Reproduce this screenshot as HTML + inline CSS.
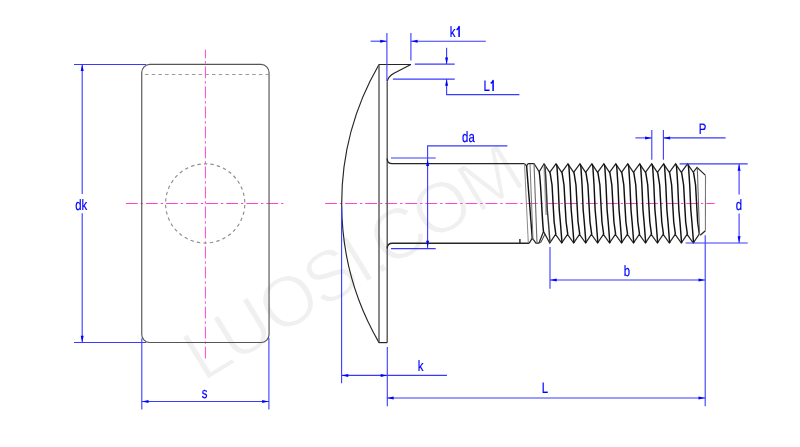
<!DOCTYPE html>
<html><head><meta charset="utf-8"><style>
html,body{margin:0;padding:0;background:#fff;}
svg{display:block;}
text{font-family:"Liberation Sans",sans-serif;}
</style></head><body>
<div style="will-change:transform;width:800px;height:447px">
<svg width="800" height="447" viewBox="0 0 800 447">
<rect width="800" height="447" fill="#fff"/>
<text x="-115 -78.5 -28 25.3 71 88 102 151.8 206.6" y="0" transform="translate(287.5,300.3) rotate(-31.5) translate(0,25.9)" font-size="72" fill="#f0f0f0" stroke="#ffffff" stroke-width="1.4" font-family="Liberation Sans">LUOSI.COM</text>
<line x1="205.4" y1="49.6" x2="205.4" y2="359" stroke="#ff45d0" stroke-width="1.0" stroke-dasharray="11.8 2.95 2.3 2.97" stroke-dashoffset="3.2"/>
<line x1="125.9" y1="203.5" x2="284" y2="203.5" stroke="#ff45d0" stroke-width="1.0" stroke-dasharray="11.8 3.0 2.3 2.96"/>
<rect x="141.75" y="64.45" width="127.3" height="278.0" rx="8" ry="8" fill="none" stroke="#555555" stroke-width="1.15"/>
<line x1="145" y1="74.55" x2="269" y2="74.55" stroke="#9a9a9a" stroke-width="1.1" stroke-dasharray="3.5 3.2"/>
<circle cx="205.2" cy="203.45" r="39.6" fill="none" stroke="#8e8e8e" stroke-width="1.15" stroke-dasharray="3.4 3.15" stroke-dashoffset="-1.6"/>
<line x1="74" y1="64.5" x2="146" y2="64.5" stroke="#3a3aff" stroke-width="1.1" />
<line x1="74" y1="342.5" x2="146" y2="342.5" stroke="#3a3aff" stroke-width="1.1" />
<line x1="82.2" y1="64.4" x2="82.2" y2="194" stroke="#3a3aff" stroke-width="1.1" />
<line x1="82.2" y1="213.2" x2="82.2" y2="342.5" stroke="#3a3aff" stroke-width="1.1" />
<polygon points="82.20,64.60 80.70,71.10 83.70,71.10" fill="#0000ff"/>
<polygon points="82.20,342.30 80.70,335.80 83.70,335.80" fill="#0000ff"/>
<text x="0" y="0" transform="translate(81.3,209.6) scale(0.76,1)" text-anchor="middle" font-size="15" fill="#0000ff" stroke="#0000ff" stroke-width="0.2" text-rendering="geometricPrecision">dk</text>
<line x1="141.8" y1="338.5" x2="141.8" y2="409.4" stroke="#3a3aff" stroke-width="1.1" />
<line x1="268.9" y1="338.1" x2="268.9" y2="409.4" stroke="#3a3aff" stroke-width="1.1" />
<line x1="141.8" y1="401.5" x2="268.9" y2="401.5" stroke="#3a3aff" stroke-width="1.1" />
<polygon points="142.00,401.50 148.50,400.00 148.50,403.00" fill="#0000ff"/>
<polygon points="268.70,401.50 262.20,400.00 262.20,403.00" fill="#0000ff"/>
<text x="0" y="0" transform="translate(204.5,397.59999999999997) scale(0.76,1)" text-anchor="middle" font-size="15" fill="#0000ff" stroke="#0000ff" stroke-width="0.2" text-rendering="geometricPrecision">s</text>
<line x1="325.1" y1="203.5" x2="714.7" y2="203.5" stroke="#ff45d0" stroke-width="1.0" stroke-dasharray="11.8 3.0 2.3 2.96"/>
<path d="M379,64.5 A277.7,277.7 0 0 0 379,342.6" fill="none" stroke="#262626" stroke-width="1.15" />
<path d="M379,64.5 L410.9,64.5 L394,73.2 Q388,76.5 387.2,81.5" fill="none" stroke="#262626" stroke-width="1.2" />
<line x1="387.2" y1="81.5" x2="387.2" y2="342.6" stroke="#4a4a4a" stroke-width="1.3" />
<path d="M387.2,158.4 Q387.2,163.65 392.4,163.65 L524.5,163.65" fill="none" stroke="#262626" stroke-width="1.35" />
<line x1="379" y1="64.5" x2="379" y2="342.6" stroke="#4a4a4a" stroke-width="1.3" />
<path d="M378.8,342.6 L387.3,342.6" fill="none" stroke="#262626" stroke-width="1.2" />
<path d="M387.2,248.4 Q387.2,243.2 392.4,243.2 L529.2,243.2" fill="none" stroke="#262626" stroke-width="1.35" />
<path d="M519.9,239 L519.9,243" fill="none" stroke="#262626" stroke-width="1.4" />
<path d="M524.5,163.65 L526.6,166 L528.2,163.5 L534,163.5 L539.2,171.8 L544.00,163.8 L549.74,172.3 L555.96,163.8 L561.70,172.3 L567.92,163.8 L573.66,172.3 L579.88,163.8 L585.62,172.3 L591.84,163.8 L597.58,172.3 L603.80,163.8 L609.54,172.3 L615.76,163.8 L621.50,172.3 L627.72,163.8 L633.46,172.3 L639.68,163.8 L645.42,172.3 L651.64,163.8 L657.38,172.3 L663.60,163.8 L669.34,172.3 L675.56,163.8 L681.30,172.3 L687.52,163.8 L693.26,172.3 L697,167.4 L705.5,175.4" fill="none" stroke="#262626" stroke-width="1.25" />
<path d="M705.4,230.7 L700.2,235.2" fill="none" stroke="#262626" stroke-width="1.25" />
<path d="M529.2,243.2 L532.3,238.2 L535.9,243 L539,243 L543.5,231.5 L549.74,243 L555.54,234.3 L561.70,243 L567.50,234.3 L573.66,243 L579.46,234.3 L585.62,243 L591.42,234.3 L597.58,243 L603.38,234.3 L609.54,243 L615.34,234.3 L621.50,243 L627.30,234.3 L633.46,243 L639.26,234.3 L645.42,243 L651.22,234.3 L657.38,243 L663.18,234.3 L669.34,243 L675.14,234.3 L681.30,243 L687.10,234.3 L693.26,243 L699.06,234.3" fill="none" stroke="#262626" stroke-width="1.25" />
<path d="M524.5,163.5 L528.3,243" fill="none" stroke="#8a8a8a" stroke-width="1.0" />
<path d="M526.6,166 L532.3,238.2" fill="none" stroke="#111111" stroke-width="1.45" />
<path d="M530,164 L533,240" fill="none" stroke="#7a7a7a" stroke-width="1.05" />
<path d="M534,163.5 L537,243" fill="none" stroke="#6a6a6a" stroke-width="1.1" />
<path d="M540.5,243 L545,234" fill="none" stroke="#333" stroke-width="1.0" />
<path d="M539.2,171.8 C541,182 542,220 543.5,231.5" fill="none" stroke="#111111" stroke-width="1.45" />
<path d="M544.6,166 L545.6,190 L546.6,215" fill="none" stroke="#b0b0b0" stroke-width="2.6" />
<path d="M544.30,163.80 L545.00,166.70 L546.20,185.00 L547.30,210.00 L548.40,222.00 L550.04,243.00" fill="none" stroke="#3a3a3a" stroke-width="1.45" stroke-linejoin="round"/>
<path d="M550.04,172.30 L552.04,185.00 L553.44,210.00 L554.14,222.00 L555.84,234.30" fill="none" stroke="#111111" stroke-width="1.45" stroke-linejoin="round"/>
<path d="M556.26,163.80 L556.96,166.70 L558.16,185.00 L559.26,210.00 L560.36,222.00 L562.00,243.00" fill="none" stroke="#111111" stroke-width="1.45" stroke-linejoin="round"/>
<path d="M562.00,172.30 L564.00,185.00 L565.40,210.00 L566.10,222.00 L567.80,234.30" fill="none" stroke="#111111" stroke-width="1.45" stroke-linejoin="round"/>
<path d="M568.22,163.80 L568.92,166.70 L570.12,185.00 L571.22,210.00 L572.32,222.00 L573.96,243.00" fill="none" stroke="#111111" stroke-width="1.45" stroke-linejoin="round"/>
<path d="M573.96,172.30 L575.96,185.00 L577.36,210.00 L578.06,222.00 L579.76,234.30" fill="none" stroke="#111111" stroke-width="1.45" stroke-linejoin="round"/>
<path d="M580.18,163.80 L580.88,166.70 L582.08,185.00 L583.18,210.00 L584.28,222.00 L585.92,243.00" fill="none" stroke="#111111" stroke-width="1.45" stroke-linejoin="round"/>
<path d="M585.92,172.30 L587.92,185.00 L589.32,210.00 L590.02,222.00 L591.72,234.30" fill="none" stroke="#111111" stroke-width="1.45" stroke-linejoin="round"/>
<path d="M592.14,163.80 L592.84,166.70 L594.04,185.00 L595.14,210.00 L596.24,222.00 L597.88,243.00" fill="none" stroke="#111111" stroke-width="1.45" stroke-linejoin="round"/>
<path d="M597.88,172.30 L599.88,185.00 L601.28,210.00 L601.98,222.00 L603.68,234.30" fill="none" stroke="#111111" stroke-width="1.45" stroke-linejoin="round"/>
<path d="M604.10,163.80 L604.80,166.70 L606.00,185.00 L607.10,210.00 L608.20,222.00 L609.84,243.00" fill="none" stroke="#111111" stroke-width="1.45" stroke-linejoin="round"/>
<path d="M609.84,172.30 L611.84,185.00 L613.24,210.00 L613.94,222.00 L615.64,234.30" fill="none" stroke="#111111" stroke-width="1.45" stroke-linejoin="round"/>
<path d="M616.06,163.80 L616.76,166.70 L617.96,185.00 L619.06,210.00 L620.16,222.00 L621.80,243.00" fill="none" stroke="#111111" stroke-width="1.45" stroke-linejoin="round"/>
<path d="M621.80,172.30 L623.80,185.00 L625.20,210.00 L625.90,222.00 L627.60,234.30" fill="none" stroke="#111111" stroke-width="1.45" stroke-linejoin="round"/>
<path d="M628.02,163.80 L628.72,166.70 L629.92,185.00 L631.02,210.00 L632.12,222.00 L633.76,243.00" fill="none" stroke="#111111" stroke-width="1.45" stroke-linejoin="round"/>
<path d="M633.76,172.30 L635.76,185.00 L637.16,210.00 L637.86,222.00 L639.56,234.30" fill="none" stroke="#111111" stroke-width="1.45" stroke-linejoin="round"/>
<path d="M639.98,163.80 L640.68,166.70 L641.88,185.00 L642.98,210.00 L644.08,222.00 L645.72,243.00" fill="none" stroke="#111111" stroke-width="1.45" stroke-linejoin="round"/>
<path d="M645.72,172.30 L647.72,185.00 L649.12,210.00 L649.82,222.00 L651.52,234.30" fill="none" stroke="#111111" stroke-width="1.45" stroke-linejoin="round"/>
<path d="M651.94,163.80 L652.64,166.70 L653.84,185.00 L654.94,210.00 L656.04,222.00 L657.68,243.00" fill="none" stroke="#111111" stroke-width="1.45" stroke-linejoin="round"/>
<path d="M657.68,172.30 L659.68,185.00 L661.08,210.00 L661.78,222.00 L663.48,234.30" fill="none" stroke="#111111" stroke-width="1.45" stroke-linejoin="round"/>
<path d="M663.90,163.80 L664.60,166.70 L665.80,185.00 L666.90,210.00 L668.00,222.00 L669.64,243.00" fill="none" stroke="#111111" stroke-width="1.45" stroke-linejoin="round"/>
<path d="M669.64,172.30 L671.64,185.00 L673.04,210.00 L673.74,222.00 L675.44,234.30" fill="none" stroke="#111111" stroke-width="1.45" stroke-linejoin="round"/>
<path d="M675.86,163.80 L676.56,166.70 L677.76,185.00 L678.86,210.00 L679.96,222.00 L681.60,243.00" fill="none" stroke="#111111" stroke-width="1.45" stroke-linejoin="round"/>
<path d="M681.60,172.30 L683.60,185.00 L685.00,210.00 L685.70,222.00 L687.40,234.30" fill="none" stroke="#111111" stroke-width="1.45" stroke-linejoin="round"/>
<path d="M687.82,163.80 L688.52,166.70 L689.72,185.00 L690.82,210.00 L691.92,222.00 L693.56,243.00" fill="none" stroke="#111111" stroke-width="1.45" stroke-linejoin="round"/>
<path d="M693.56,172.30 L695.56,185.00 L696.96,210.00 L697.66,222.00 L699.36,234.30" fill="none" stroke="#111111" stroke-width="1.45" stroke-linejoin="round"/>
<path d="M697.3,167.4 L699.5,234" fill="none" stroke="#666" stroke-width="1.1" />
<path d="M705.5,175.4 L705.4,230.7" fill="none" stroke="#777" stroke-width="1.1" />
<line x1="386.9" y1="33" x2="386.9" y2="81" stroke="#3a3aff" stroke-width="1.1" />
<line x1="410.9" y1="33" x2="410.9" y2="60.5" stroke="#3a3aff" stroke-width="1.1" />
<line x1="370.6" y1="41.2" x2="386.9" y2="41.2" stroke="#3a3aff" stroke-width="1.1" />
<line x1="410.9" y1="41.2" x2="485.8" y2="41.2" stroke="#3a3aff" stroke-width="1.1" />
<polygon points="386.70,41.20 380.20,39.70 380.20,42.70" fill="#0000ff"/>
<polygon points="411.10,41.20 417.60,39.70 417.60,42.70" fill="#0000ff"/>
<text x="0" y="0" transform="translate(452.6,37.4) scale(0.76,1)" text-anchor="middle" font-size="15" fill="#0000ff" stroke="#0000ff" stroke-width="0.2" text-rendering="geometricPrecision">k</text>
<path d="M459.1,37 L459.1,26.6 Q458.3,28.9 456.6,29.9" fill="none" stroke="#0000ff" stroke-width="1.5" stroke-linejoin="round"/>
<line x1="414.8" y1="64.1" x2="454.7" y2="64.1" stroke="#3a3aff" stroke-width="1.1" />
<line x1="392.9" y1="79.1" x2="454.7" y2="79.1" stroke="#3a3aff" stroke-width="1.1" />
<line x1="446.6" y1="47.7" x2="446.6" y2="64.1" stroke="#3a3aff" stroke-width="1.1" />
<polygon points="446.60,63.90 445.10,57.40 448.10,57.40" fill="#0000ff"/>
<path d="M446.6,79.1 L446.6,94.6 L519.4,94.6" fill="none" stroke="#3a3aff" stroke-width="1.1" />
<polygon points="446.60,79.30 445.10,85.80 448.10,85.80" fill="#0000ff"/>
<text x="0" y="0" transform="translate(486.6,91.4) scale(0.76,1)" text-anchor="middle" font-size="15" fill="#0000ff" stroke="#0000ff" stroke-width="0.2" text-rendering="geometricPrecision">L</text>
<path d="M493.1,91 L493.1,80.6 Q492.3,82.5 490.7,83.4" fill="none" stroke="#0000ff" stroke-width="1.5" stroke-linejoin="round"/>
<line x1="391" y1="158" x2="435.7" y2="158" stroke="#3a3aff" stroke-width="1.1" />
<line x1="391" y1="248.6" x2="435.7" y2="248.6" stroke="#3a3aff" stroke-width="1.1" />
<path d="M507.4,145.9 L427.6,145.9 L427.6,248.6" fill="none" stroke="#3a3aff" stroke-width="1.1" />
<polygon points="427.60,159.50 426.10,166.00 429.10,166.00" fill="#0000ff"/>
<polygon points="427.60,247.20 426.10,240.70 429.10,240.70" fill="#0000ff"/>
<text x="0" y="0" transform="translate(468.4,141.8) scale(0.76,1)" text-anchor="middle" font-size="15" fill="#0000ff" stroke="#0000ff" stroke-width="0.2" text-rendering="geometricPrecision">da</text>
<line x1="341.6" y1="207" x2="341.6" y2="383.2" stroke="#3a3aff" stroke-width="1.1" />
<line x1="387.3" y1="347" x2="387.3" y2="406.2" stroke="#3a3aff" stroke-width="1.1" />
<line x1="341.6" y1="375.4" x2="447" y2="375.4" stroke="#3a3aff" stroke-width="1.1" />
<polygon points="341.80,375.40 348.30,373.90 348.30,376.90" fill="#0000ff"/>
<polygon points="387.10,375.40 380.60,373.90 380.60,376.90" fill="#0000ff"/>
<text x="0" y="0" transform="translate(420.5,371.0) scale(0.76,1)" text-anchor="middle" font-size="15" fill="#0000ff" stroke="#0000ff" stroke-width="0.2" text-rendering="geometricPrecision">k</text>
<line x1="386.9" y1="398" x2="705.2" y2="398" stroke="#3a3aff" stroke-width="1.1" />
<line x1="705.2" y1="235.2" x2="705.2" y2="406.2" stroke="#3a3aff" stroke-width="1.1" />
<polygon points="387.10,398.00 393.60,396.50 393.60,399.50" fill="#0000ff"/>
<polygon points="705.00,398.00 698.50,396.50 698.50,399.50" fill="#0000ff"/>
<text x="0" y="0" transform="translate(545,392.9) scale(0.76,1)" text-anchor="middle" font-size="15" fill="#0000ff" stroke="#0000ff" stroke-width="0.2" text-rendering="geometricPrecision">L</text>
<line x1="550" y1="247" x2="550" y2="288.75" stroke="#3a3aff" stroke-width="1.1" />
<line x1="550" y1="280" x2="705.2" y2="280" stroke="#3a3aff" stroke-width="1.1" />
<polygon points="550.20,280.00 556.70,278.50 556.70,281.50" fill="#0000ff"/>
<polygon points="705.00,280.00 698.50,278.50 698.50,281.50" fill="#0000ff"/>
<text x="0" y="0" transform="translate(627,276.4) scale(0.76,1)" text-anchor="middle" font-size="15" fill="#0000ff" stroke="#0000ff" stroke-width="0.2" text-rendering="geometricPrecision">b</text>
<line x1="651.8" y1="129.9" x2="651.8" y2="159.7" stroke="#3a3aff" stroke-width="1.1" />
<line x1="663.4" y1="129.9" x2="663.4" y2="159.7" stroke="#3a3aff" stroke-width="1.1" />
<line x1="635.4" y1="137.9" x2="651.8" y2="137.9" stroke="#3a3aff" stroke-width="1.1" />
<line x1="663.4" y1="137.9" x2="725.6" y2="137.9" stroke="#3a3aff" stroke-width="1.1" />
<polygon points="651.60,137.90 645.10,136.40 645.10,139.40" fill="#0000ff"/>
<polygon points="663.60,137.90 670.10,136.40 670.10,139.40" fill="#0000ff"/>
<text x="0" y="0" transform="translate(702.5,133.5) scale(0.76,1)" text-anchor="middle" font-size="15" fill="#0000ff" stroke="#0000ff" stroke-width="0.2" text-rendering="geometricPrecision">P</text>
<line x1="679.6" y1="163.9" x2="747.7" y2="163.9" stroke="#3a3aff" stroke-width="1.1" />
<line x1="685.6" y1="243" x2="747.7" y2="243" stroke="#3a3aff" stroke-width="1.1" />
<line x1="739.1" y1="164" x2="739.1" y2="194.4" stroke="#3a3aff" stroke-width="1.1" />
<line x1="739.1" y1="213.5" x2="739.1" y2="243" stroke="#3a3aff" stroke-width="1.1" />
<polygon points="739.10,164.20 737.60,170.70 740.60,170.70" fill="#0000ff"/>
<polygon points="739.10,242.80 737.60,236.30 740.60,236.30" fill="#0000ff"/>
<text x="0" y="0" transform="translate(738.9,209.70000000000002) scale(0.76,1)" text-anchor="middle" font-size="15" fill="#0000ff" stroke="#0000ff" stroke-width="0.2" text-rendering="geometricPrecision">d</text>
</svg>
</div>
</body></html>
